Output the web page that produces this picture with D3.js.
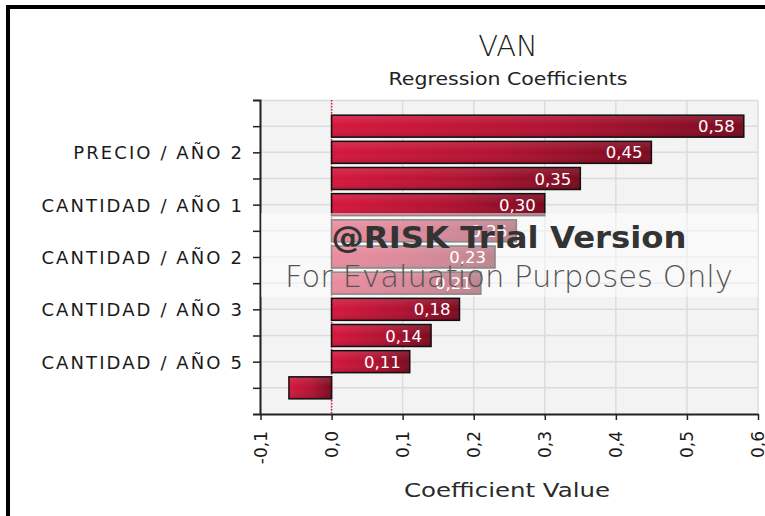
<!DOCTYPE html>
<html>
<head>
<meta charset="utf-8">
<script src="https://cdn.jsdelivr.net/npm/d3@7"></script>
<style>
  html, body { margin: 0; padding: 0; background: #fff; }
  svg { display: block; }
  text { font-family: "DejaVu Sans", Verdana, sans-serif; }
</style>
</head>
<body>
<svg id="chart" width="765" height="516"></svg>
<script>
// Regression coefficients for VAN, top to bottom
const coefLabels = ["", "PRECIO / AÑO 2", "", "CANTIDAD / AÑO 1", "", "CANTIDAD / AÑO 2",
                    "", "CANTIDAD / AÑO 3", "", "CANTIDAD / AÑO 5", ""];
const coefValues = [0.58, 0.45, 0.35, 0.30, 0.26, 0.23, 0.21, 0.18, 0.14, 0.11, -0.06];
const xTickValues = [-0.1, 0, 0.1, 0.2, 0.3, 0.4, 0.5, 0.6];
const chartTitle = "VAN";
const chartSubtitle = "Regression Coefficients";
const xAxisTitle = "Coefficient Value";

const esLocale = d3.formatLocale({ decimal: ",", thousands: ".", grouping: [3], currency: ["", " €"], minus: "-" });
const fmtTick = esLocale.format(".1f");
const fmtVal = esLocale.format(".2f");

const svg = d3.select("#chart");
const plot = { left: 260, right: 758, top: 100, bottom: 414 };

// outer frame (right/bottom sides fall outside the view)
svg.append("rect").attr("x", 8).attr("y", 7).attr("width", 800).attr("height", 560)
  .attr("fill", "none").attr("stroke", "#000").attr("stroke-width", 4);

const x = d3.scaleLinear().domain([-0.1, 0.6]).range([plot.left + 0.5, plot.right]);
const y = d3.scalePoint().domain(d3.range(coefValues.length))
  .range([plot.top, plot.bottom]).padding(1);

const defs = svg.append("defs");
const g1 = defs.append("linearGradient").attr("id", "barFill").attr("x1", 0).attr("x2", 1).attr("y1", 0).attr("y2", 0);
g1.append("stop").attr("offset", 0).attr("stop-color", "#d5173d");
g1.append("stop").attr("offset", 0.55).attr("stop-color", "#b01231");
g1.append("stop").attr("offset", 1).attr("stop-color", "#7a0a20");
const g2 = defs.append("linearGradient").attr("id", "barShade").attr("x1", 0).attr("x2", 0).attr("y1", 0).attr("y2", 1);
g2.append("stop").attr("offset", 0).attr("stop-color", "#fff").attr("stop-opacity", 0.12);
g2.append("stop").attr("offset", 0.5).attr("stop-color", "#fff").attr("stop-opacity", 0);
g2.append("stop").attr("offset", 1).attr("stop-color", "#000").attr("stop-opacity", 0.12);

// plot background
svg.append("rect").attr("x", plot.left).attr("y", plot.top)
  .attr("width", plot.right - plot.left).attr("height", plot.bottom - plot.top)
  .attr("fill", "#f3f3f3");

// grid
const grid = svg.append("g").attr("stroke", "#dcdcdc").attr("stroke-width", 1.5);
grid.selectAll("line.v").data(xTickValues).join("line")
  .attr("x1", d => x(d)).attr("x2", d => x(d)).attr("y1", plot.top).attr("y2", plot.bottom);
grid.selectAll("line.h").data([null, ...y.domain()]).join("line")
  .attr("x1", plot.left).attr("x2", plot.right)
  .attr("y1", d => d === null ? plot.top + 0.5 : y(d)).attr("y2", d => d === null ? plot.top + 0.5 : y(d));

// zero reference line
svg.append("line").attr("x1", x(0)).attr("x2", x(0)).attr("y1", plot.top).attr("y2", plot.bottom)
  .attr("stroke", "#e0183f").attr("stroke-width", 1.5).attr("stroke-dasharray", "1.5,1.5");

// bars
const barH = 22;
const bars = svg.append("g");
bars.selectAll("rect.b").data(coefValues).join("rect")
  .attr("x", d => x(Math.min(0, d))).attr("y", (d, i) => y(i) - barH / 2)
  .attr("width", d => Math.abs(x(d) - x(0))).attr("height", barH)
  .attr("fill", "url(#barFill)");
bars.selectAll("rect.s").data(coefValues).join("rect")
  .attr("x", d => x(Math.min(0, d))).attr("y", (d, i) => y(i) - barH / 2)
  .attr("width", d => Math.abs(x(d) - x(0))).attr("height", barH)
  .attr("fill", "url(#barShade)").attr("stroke", "#111").attr("stroke-width", 1.5);

// value labels inside bar ends
svg.append("g").selectAll("text").data(coefValues.map((v, i) => ({ v, i })).filter(d => d.v >= 0.1)).join("text")
  .attr("x", d => x(d.v) - 9).attr("y", d => y(d.i) + 6)
  .attr("text-anchor", "end").attr("fill", "#fff").attr("font-size", 16.5)
  .text(d => fmtVal(d.v));

// left axis
const yAxis = svg.append("g").attr("transform", `translate(${plot.left},0)`)
  .call(d3.axisLeft(y).tickSize(7).tickSizeOuter(7).tickPadding(9).tickFormat(i => coefLabels[i]));
yAxis.select(".domain").attr("stroke", "#222").attr("stroke-width", 2);
yAxis.selectAll(".tick line").attr("stroke", "#222").attr("stroke-width", 1.5);
yAxis.selectAll(".tick text").attr("font-size", 18).attr("fill", "#1a1a1a")
  .attr("font-family", "DejaVu Sans, Verdana, sans-serif").attr("letter-spacing", 2.1).attr("dy", "0.36em");

// bottom axis
const xAxis = svg.append("g").attr("transform", `translate(0,${plot.bottom})`)
  .call(d3.axisBottom(x).tickValues(xTickValues).tickSize(6).tickSizeOuter(0).tickFormat(fmtTick));
xAxis.select(".domain").attr("stroke", "#222").attr("stroke-width", 2);
xAxis.selectAll(".tick line").attr("stroke", "#222").attr("stroke-width", 1.5);
xAxis.selectAll(".tick text")
  .attr("font-size", 17).attr("fill", "#1a1a1a").attr("font-family", "DejaVu Sans, Verdana, sans-serif")
  .attr("text-anchor", "end").attr("transform", "rotate(-90)")
  .attr("x", -17).attr("y", 0).attr("dy", "0.35em");

// titles
svg.append("text").attr("x", 508).attr("y", 56).attr("text-anchor", "middle")
  .attr("font-family", "Lato, 'Open Sans', sans-serif").attr("font-weight", 300)
  .attr("font-size", 29).attr("fill", "#222").text(chartTitle);
svg.append("text").attr("x", 508).attr("y", 85).attr("text-anchor", "middle")
  .attr("font-family", "'Open Sans', sans-serif").attr("font-size", 17).attr("fill", "#222")
  .attr("textLength", 239).attr("lengthAdjust", "spacingAndGlyphs").text(chartSubtitle);
svg.append("text").attr("x", 507).attr("y", 497).attr("text-anchor", "middle")
  .attr("font-family", "'Open Sans', sans-serif").attr("font-size", 20).attr("fill", "#2a2a2a")
  .attr("textLength", 206).attr("lengthAdjust", "spacingAndGlyphs").text(xAxisTitle);

// trial-version watermark band and text
svg.append("rect").attr("x", plot.left + 1).attr("y", 213).attr("width", plot.right - plot.left - 1).attr("height", 84)
  .attr("fill", "#fff").attr("opacity", 0.5);
svg.append("text").attr("x", 509).attr("y", 248).attr("text-anchor", "middle")
  .attr("font-weight", "bold").attr("font-size", 30).attr("fill", "#333")
  .attr("textLength", 355).attr("lengthAdjust", "spacingAndGlyphs").text("@RISK Trial Version");
svg.append("text").attr("x", 509).attr("y", 287).attr("text-anchor", "middle")
  .attr("font-family", "Lato, 'Open Sans', sans-serif").attr("font-weight", 300)
  .attr("font-size", 30).attr("fill", "#555")
  .attr("textLength", 448).attr("lengthAdjust", "spacingAndGlyphs").text("For Evaluation Purposes Only");
</script>
</body>
</html>
